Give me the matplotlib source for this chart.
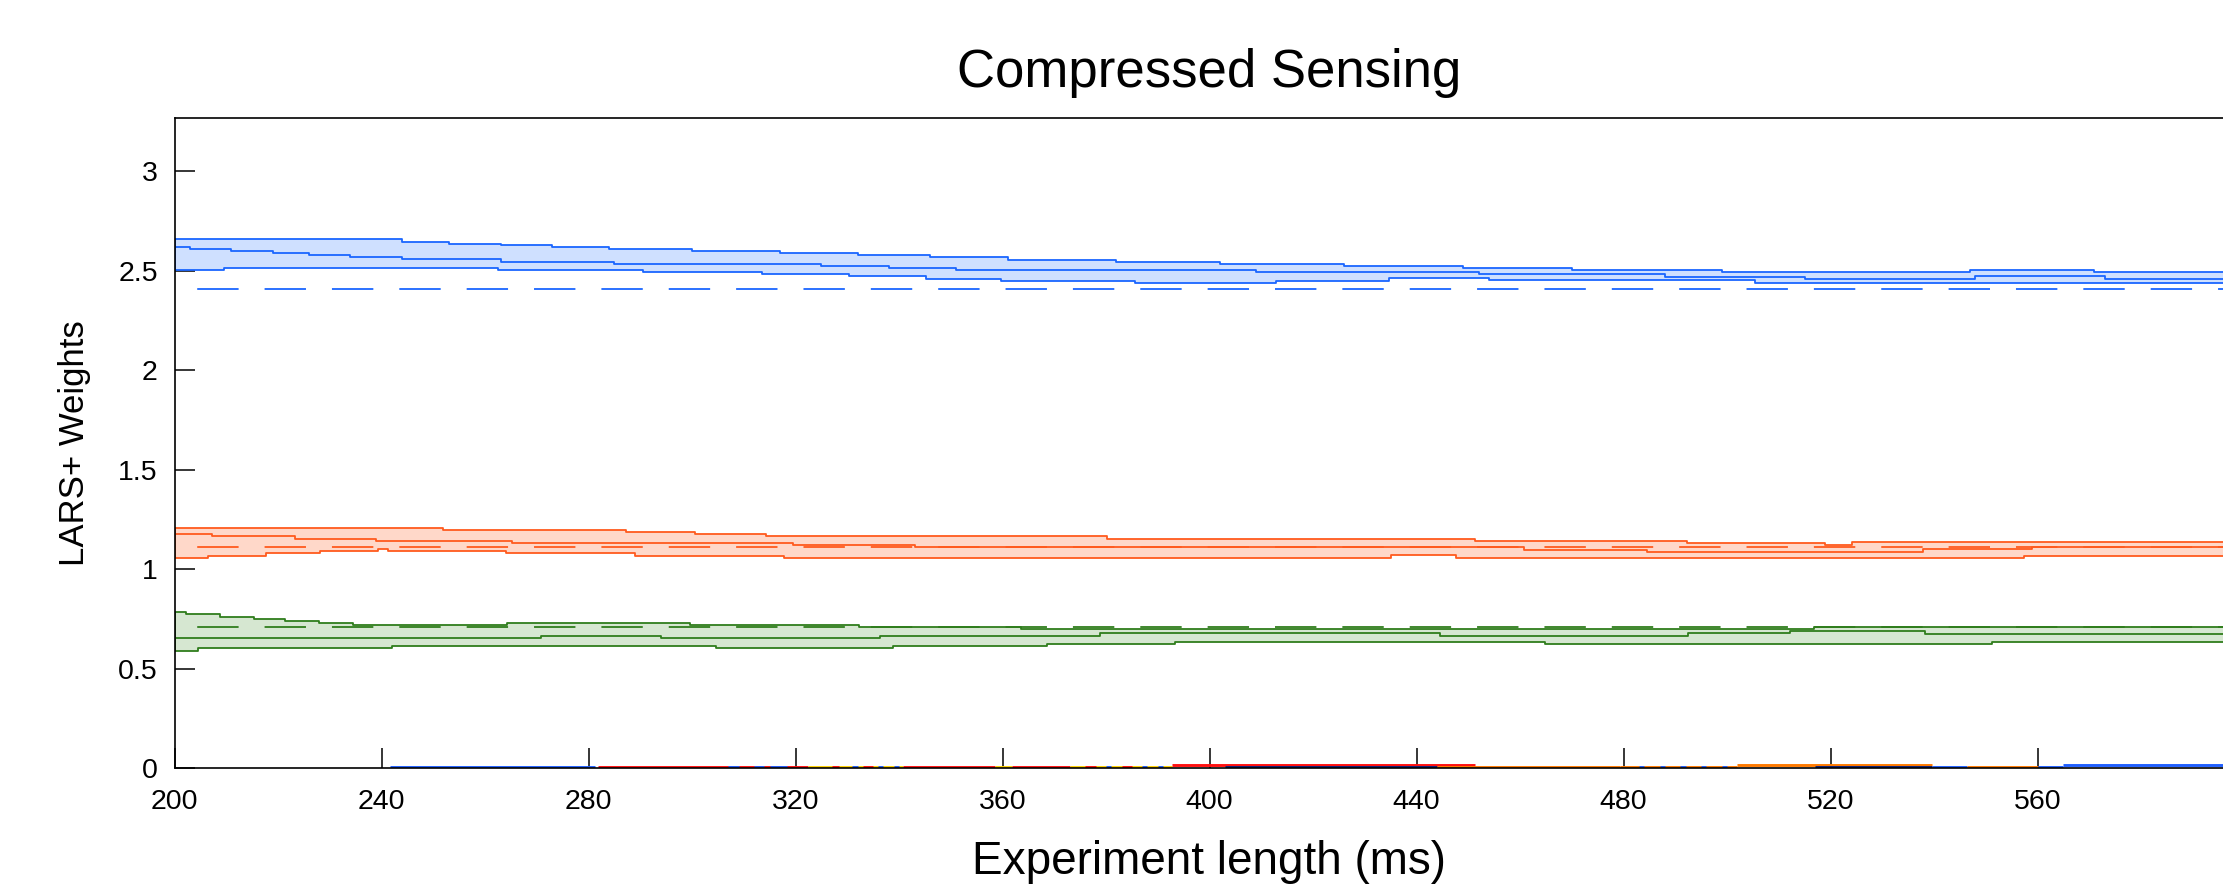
import matplotlib
matplotlib.use("Agg")
import matplotlib.pyplot as plt
import numpy as np

plt.rcParams['font.family'] = ['Liberation Sans', 'DejaVu Sans']
plt.rcParams['lines.scale_dashes'] = False

# ---------------- data (step functions: breakpoints and values) ----------------
X_END = 600

BLUE_TOP_X = [200, 244, 253, 263, 273, 284, 300, 317, 332, 346, 361, 382, 402, 426, 449, 470, 499, 547, 571]
BLUE_TOP = [2.657, 2.646, 2.636, 2.629, 2.621, 2.609, 2.599, 2.589, 2.577, 2.567, 2.555, 2.545, 2.535,
            2.525, 2.515, 2.503, 2.493, 2.505, 2.493]
BLUE_MID_X = [200, 203, 211, 219, 226, 234, 244, 263, 285, 325, 338, 351, 409, 452, 488, 515, 548, 573]
BLUE_MID = [2.621, 2.609, 2.599, 2.589, 2.577, 2.567, 2.557, 2.545, 2.535, 2.525, 2.513, 2.502, 2.492,
            2.482, 2.470, 2.460, 2.472, 2.460]
BLUE_BOT_X = [200, 209.5, 262.6, 290.6, 313.5, 330.4, 345.2, 359.8, 385.6, 412.8, 434.6, 454, 505.5]
BLUE_BOT = [2.503, 2.513, 2.503, 2.493, 2.483, 2.472, 2.460, 2.450, 2.440, 2.450, 2.462, 2.452, 2.438]
BLUE_TRUE = 2.408

ORANGE_TOP_X = [200, 251.8, 287.2, 300.5, 314.3, 380.1, 451.3, 492.2, 519.0, 524.1]
ORANGE_TOP = [1.207, 1.196, 1.186, 1.176, 1.166, 1.152, 1.144, 1.132, 1.122, 1.135]
ORANGE_MID_X = [200, 207.3, 223.3, 239.0, 265.3, 319.5, 343.1, 460.7, 484.5, 537.9, 559.0]
ORANGE_MID = [1.177, 1.166, 1.154, 1.142, 1.132, 1.120, 1.110, 1.099, 1.089, 1.102, 1.112]
ORANGE_BOT_X = [200, 206.5, 217.7, 228.1, 239.3, 241.2, 264.0, 288.9, 317.8, 435.1, 447.6, 557.3]
ORANGE_BOT = [1.057, 1.067, 1.080, 1.092, 1.102, 1.090, 1.080, 1.067, 1.057, 1.072, 1.058, 1.068]
ORANGE_TRUE = 1.112

GREEN_TOP_X = [200, 202.2, 208.8, 215.4, 221.3, 227.9, 234.5, 264.3, 299.7, 332.3, 363.5, 516.9]
GREEN_TOP = [0.784, 0.774, 0.762, 0.752, 0.742, 0.732, 0.720, 0.730, 0.720, 0.708, 0.700, 0.712]
GREEN_MID_X = [200, 270.9, 294.0, 336.3, 378.9, 444.5, 492.5, 512.1, 538.2]
GREEN_MID = [0.657, 0.667, 0.657, 0.667, 0.678, 0.665, 0.678, 0.690, 0.677]
GREEN_BOT_X = [200, 204.6, 242.1, 304.7, 338.8, 368.6, 393.4, 464.9, 551.3]
GREEN_BOT = [0.591, 0.605, 0.615, 0.605, 0.615, 0.625, 0.635, 0.625, 0.635]
GREEN_TRUE = 0.708

# near-zero weights of the other features (start, end, value, colour key)
ZERO_X0 = [241.6, 281.8, 322.5, 340.8, 358.5, 361.8, 373.0, 392.7, 403.0, 444.0, 479.3, 502.0, 517.0, 539.6, 546.4, 560.0, 565.0,
           307, 312, 315, 327, 331, 333, 336, 339, 376, 380, 383, 387, 390, 483, 487, 491, 495, 499]
ZERO_X1 = [281.2, 322.5, 340.8, 358.5, 361.8, 373.0, 392.7, 451.4, 444.0, 479.3, 502.0, 539.6, 539.6, 546.4, 560.0, 565.0, 600.0,
           309, 314, 318.4, 328.5, 332, 335, 337, 340, 378, 381, 385, 388, 391, 484, 488, 492, 496, 500]
ZERO_Y = [0.007, 0.007, 0.007, 0.007, 0.007, 0.007, 0.007, 0.018, 0.005, 0.007, 0.007, 0.018, 0.005, 0.007, 0.007, 0.007, 0.015,
          0.007, 0.007, 0.007, 0.007, 0.007, 0.007, 0.007, 0.007, 0.007, 0.007, 0.007, 0.007, 0.007, 0.007, 0.007, 0.007, 0.007, 0.007]
ZERO_C = ['blue', 'red', 'yellow', 'red', 'yellow', 'red', 'yellow', 'red', 'navy', 'orange', 'orange', 'orange', 'navy', 'blue', 'orange', 'blue', 'blue',
          'blue', 'blue', 'blue', 'red', 'blue', 'red', 'blue', 'blue', 'red', 'blue', 'red', 'blue', 'blue', 'blue', 'blue', 'blue', 'blue', 'blue']

XTICKS = [200, 240, 280, 320, 360, 400, 440, 480, 520, 560]
YTICKS = [0, 0.5, 1, 1.5, 2, 2.5, 3]
YTICKLABELS = ['0', '0.5', '1', '1.5', '2', '2.5', '3']

COLORS = {
    'blue': ('#1a66ff', '#cfe0ff'),
    'orange': ('#ff5a1e', '#ffd8c9'),
    'green': ('#2f7d1c', '#d6e7d1'),
}
ZCOL = {'blue': '#1f5fff', 'red': '#ff1010', 'yellow': '#ffd000', 'orange': '#ff7a00', 'navy': '#0b1f7a'}

# ---------------- figure ----------------
W, H = 2223, 886
fig = plt.figure(figsize=(W / 100, H / 100), dpi=100)
left_px, right_px, top_px, bot_px = 174.5, 2244.5, 117.5, 768.4
ax = fig.add_axes([left_px / W, (H - bot_px) / H, (right_px - left_px) / W, (bot_px - top_px) / H])


def ext(xs, ys):
    return np.append(xs, X_END), np.append(ys, ys[-1])


def band(key, tx, ty, mx, my, bx, by, truth):
    line_c, fill_c = COLORS[key]
    txe, tye = ext(tx, ty)
    mxe, mye = ext(mx, my)
    bxe, bye = ext(bx, by)
    grid = np.unique(np.concatenate([txe, bxe]))
    up = np.array(ty)[np.searchsorted(tx, grid, side='right') - 1]
    lo = np.array(by)[np.searchsorted(bx, grid, side='right') - 1]
    ax.fill_between(grid, lo, up, step='post', color=fill_c, lw=0, zorder=1)
    for xe, ye in ((txe, tye), (mxe, mye), (bxe, bye)):
        ax.plot(xe, ye, drawstyle='steps-post', color=line_c, lw=1.3, zorder=2)
    ax.vlines(tx[0], by[0], ty[0], color=line_c, lw=1.3, zorder=2)
    ax.plot([tx[0], X_END], [truth, truth], color=line_c, lw=1.3, zorder=3,
            linestyle=(32.5, (29.8, 18.7)))


band('blue', BLUE_TOP_X, BLUE_TOP, BLUE_MID_X, BLUE_MID, BLUE_BOT_X, BLUE_BOT, BLUE_TRUE)
band('orange', ORANGE_TOP_X, ORANGE_TOP, ORANGE_MID_X, ORANGE_MID, ORANGE_BOT_X, ORANGE_BOT, ORANGE_TRUE)
band('green', GREEN_TOP_X, GREEN_TOP, GREEN_MID_X, GREEN_MID, GREEN_BOT_X, GREEN_BOT, GREEN_TRUE)

for x0, x1, y, c in zip(ZERO_X0, ZERO_X1, ZERO_Y, ZERO_C):
    ax.plot([x0, x1], [y, y], color=ZCOL[c], lw=2.1, solid_capstyle='butt', zorder=2)

ax.set_xlim(200, 600)
ax.set_ylim(0, 3.269)
ax.set_xticks(XTICKS)
ax.set_xticklabels([str(t) for t in XTICKS])
ax.set_yticks(YTICKS)
ax.set_yticklabels(YTICKLABELS)
ax.tick_params(axis='both', direction='in', length=14.5, width=1.1, labelsize=20.5, colors='black')
ax.tick_params(axis='x', pad=15)
ax.tick_params(axis='y', pad=12)
for s in ax.spines.values():
    s.set_linewidth(1.2)

ax.set_title('Compressed Sensing', fontsize=38, pad=22)
ax.set_xlabel('Experiment length (ms)', fontsize=33, labelpad=18)
ax.set_ylabel('LARS+ Weights', fontsize=25)
ylab = ax.yaxis.label
ylab.set_rotation_mode('default')
ylab.set_horizontalalignment('right')
ylab.set_verticalalignment('center')
ax.yaxis.set_label_coords(-0.0403, 0.5)

fig.savefig('out.png', dpi=100)
